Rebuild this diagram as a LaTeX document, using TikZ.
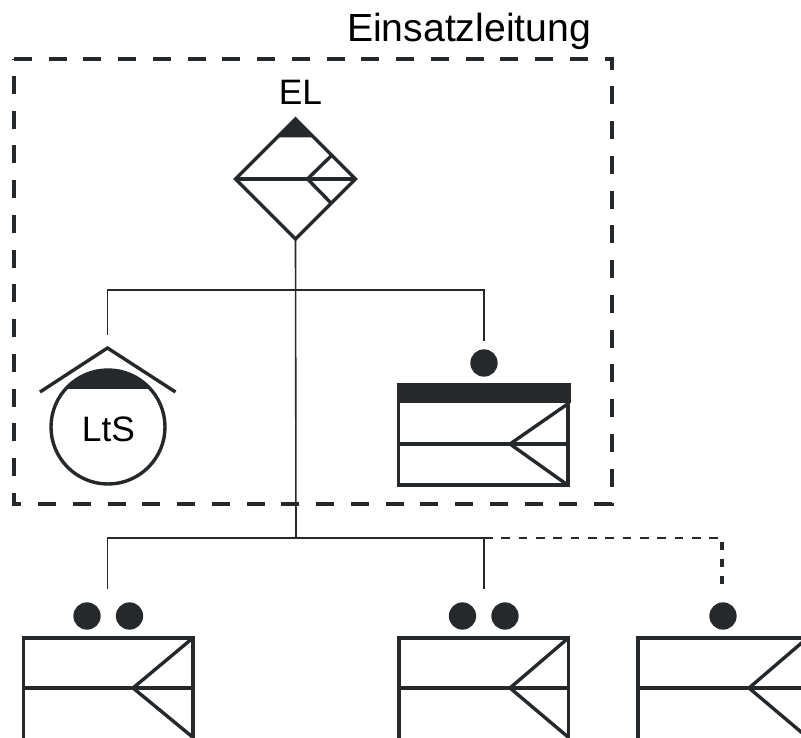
\documentclass[tikz,border=0pt]{standalone}
\usepackage{fontspec}
\setmainfont{Liberation Sans}
\usetikzlibrary{shapes.geometric}
\definecolor{ink}{HTML}{25292B}
\tikzset{
  x=0.75pt,y=-0.75pt,
  sym/.style={draw=ink,line width=2.55pt,line join=miter},
  wire/.style={draw=ink,line width=1.2pt},
  wiredash/.style={draw=ink,line width=1.5pt,dash pattern=on 6.5pt off 6.5pt},
  wiredashv/.style={draw=ink,line width=2.4pt,dash pattern=on 6.2pt off 6.6pt},
  zone/.style={draw=ink,line width=3pt,dash pattern=on 13.5pt off 12.56pt},
  dot/.style={circle,fill=ink,draw=none,minimum size=20.5pt,inner sep=0pt,outer sep=0pt},
  boxunit/.style={rectangle,sym,minimum width=127pt,inner sep=0pt,outer sep=0pt,anchor=north west},
  label/.style={inner sep=0pt,outer sep=0pt,font=\fontsize{26.5pt}{30pt}\selectfont,text=black},
}
\begin{document}
\begin{tikzpicture}
\useasboundingbox (0,0) rectangle (801,738);
\clip (0,0) rectangle (801,738);

% zone
\node[label,anchor=base west,font=\fontsize{29.4pt}{32pt}\selectfont] (title) at (347,42) {Einsatzleitung};
\coordinate (zTL) at (14,59);
\coordinate (zBR) at (612,503.5);
\draw[zone] (zTL) -| (zBR) -| (zTL) -- cycle;

% EL diamond
\node[label,anchor=base] (eltext) at (300.5,105) {EL};
\node[diamond,aspect=1,sym,minimum width=90pt,minimum height=90pt,inner sep=0pt,outer sep=0pt] (el) at (295.5,179) {};
\coordinate (elApex) at (307.5,179);
\coordinate (elUp) at (331,156);
\coordinate (elDn) at (331,203);
\fill[ink] (295.5,117) -- (277,137.5) -- (313.5,137.5) -- cycle;
\draw[sym] (el.west) -- (el.east);
\draw[sym] (elUp) -- (elApex) -- (elDn);

% LtS
\node[circle,sym,minimum size=85.5pt,inner sep=0pt,outer sep=0pt] (lts) at (108,427) {};
\begin{scope}
  \clip (40,360) rectangle (176,388.5);
  \fill[ink] (lts.center) circle[radius=57.5];
\end{scope}
\node[label,anchor=base] (ltstext) at (108.5,441) {LtS};
\coordinate (roofL) at (40,392);
\coordinate (roofT) at (107.5,348);
\coordinate (roofR) at (175.5,392);
\draw[sym] (roofL) -- (roofT) -- (roofR);

% boxed unit with bar
\node[dot] (d0) at (484,363) {};
\node[boxunit,minimum height=75.5pt] (u0) at (398.5,384.5) {};
\fill[ink] (397,383) rectangle (570.5,403);
\coordinate (u0top) at (569,403);
\coordinate (u0mid) at (510,444);
\coordinate (u0midL) at (398.5,444);
\coordinate (u0midR) at (569,444);
\draw[sym] (u0midL) -- (u0midR);
\draw[sym] (u0top) -- (u0mid) -- (u0.south east);

% lower units
\node[dot] (d1) at (87,616) {};
\node[dot] (d2) at (129.5,616) {};
\node[boxunit,minimum height=78pt] (u1) at (23.5,638) {};
\coordinate (u1mid) at (133,688);
\coordinate (u1midL) at (23.5,688);
\coordinate (u1midR) at (192.5,688);
\coordinate (u1end) at (192.5,737);
\draw[sym] (u1midL) -- (u1midR);
\draw[sym] (u1.north east) -- (u1mid) -- (u1end);

\node[dot] (d3) at (462.5,616) {};
\node[dot] (d4) at (505,616) {};
\node[boxunit,minimum height=78pt] (u2) at (399,638) {};
\coordinate (u2mid) at (510,688);
\coordinate (u2midL) at (399,688);
\coordinate (u2midR) at (568,688);
\coordinate (u2end) at (568,737);
\draw[sym] (u2midL) -- (u2midR);
\draw[sym] (u2.north east) -- (u2mid) -- (u2end);

\node[dot] (d5) at (723,616) {};
\node[boxunit,minimum height=78pt] (u3) at (638,638) {};
\coordinate (u3mid) at (749,688);
\coordinate (u3midL) at (638,688);
\coordinate (u3midR) at (807,688);
\coordinate (u3end) at (807,737);
\draw[sym] (u3midL) -- (u3midR);
\draw[sym] (u3.north east) -- (u3mid) -- (u3end);

% connectors
\coordinate (j1) at (296,290);
\coordinate (j2) at (296,538);
\coordinate (ltsIn) at (107.5,335);
\coordinate (u0In) at (484,341);
\coordinate (u1In) at (107.5,589);
\coordinate (u2In) at (484,589);
\coordinate (j3) at (484,538);
\coordinate (u3Corner) at (722,538);
\coordinate (u3In) at (722,586);
\draw[wire] (el.south) -- (j2);
\draw[wire] (ltsIn) |- (j1) -| (u0In);
\draw[wire] (u1In) |- (j2) -- (j3) -- (u2In);
\draw[wiredash] (j3) -- (u3Corner);
\draw[wiredashv] ([yshift=-3pt]u3Corner) -- (u3In);
\end{tikzpicture}
\end{document}
